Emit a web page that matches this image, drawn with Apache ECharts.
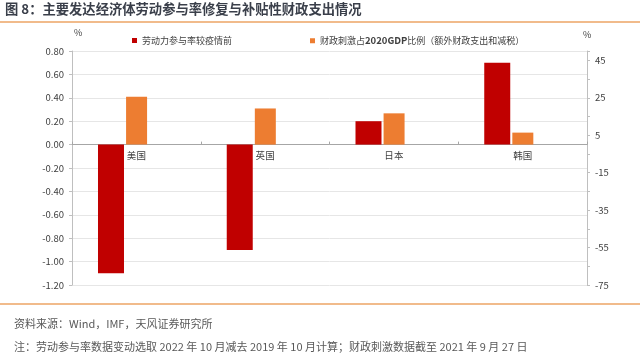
<!DOCTYPE html>
<html><head><meta charset="utf-8">
<script src="https://cdn.jsdelivr.net/npm/echarts@6/dist/echarts.min.js"></script>
<style>html,body{margin:0;padding:0;background:#fff}#c{width:640px;height:359px}</style>
</head><body><div id="c"></div>
<script>
const categories = ['美国', '英国', '日本', '韩国'];
const laborChange = [-1.10, -0.90, 0.20, 0.70];
const fiscalStimulus = [25.5, 19.3, 16.7, 6.4];
const leftTicks = {min: -1.2, max: 0.8, interval: 0.2};
const rightTicks = {min: -75, max: 50, interval: 20};
const seriesNames = ['劳动力参与率较疫情前', '财政刺激占2020GDP比例（额外财政支出和减税）'];

const FONT = '"Noto Sans CJK SC", "Noto Sans", sans-serif';
const GRID = {left: 72, right: 53, top: 51, bottom: 74};
const plotH = 359 - GRID.top - GRID.bottom;
const zeroOffset = -plotH * (0 - leftTicks.min) / (leftTicks.max - leftTicks.min);
const chart = echarts.init(document.getElementById('c'));
chart.setOption({
  animation: false,
  textStyle: {fontFamily: FONT},
  grid: GRID,
  graphic: [
    {type: 'text', left: 5, top: 2, style: {text: '图 8：主要发达经济体劳动参与率修复与补贴性财政支出情况', font: 'bold 13.3px ' + FONT, fill: '#3a3f4a'}},
    {type: 'line', shape: {x1: 0, y1: 22, x2: 640, y2: 22}, style: {stroke: '#EDA565', lineWidth: 1.5}},
    {type: 'line', shape: {x1: 0, y1: 304, x2: 640, y2: 304}, style: {stroke: '#EDA565', lineWidth: 1.5}},
    {type: 'text', left: 14, top: 318, style: {text: '资料来源：Wind，IMF，天风证券研究所', font: '11px ' + FONT, fill: '#595959'}},
    {type: 'text', left: 14, top: 341, style: {text: '注：劳动参与率数据变动选取 2022 年 10 月减去 2019 年 10 月计算；财政刺激数据截至 2021 年 9 月 27 日', font: '11px ' + FONT, fill: '#595959'}}
  ],
  legend: [
    {data: [seriesNames[0]], left: 127, top: 31, itemWidth: 5, itemHeight: 5, icon: 'rect', itemGap: 4,
     textStyle: {fontSize: 9, color: '#404040'}},
    {data: [seriesNames[1]], left: 305, top: 31, itemWidth: 5, itemHeight: 5, icon: 'rect', itemGap: 4,
     formatter: function () { return '{a|财政刺激占}{b|2020GDP}{a|比例（额外财政支出和减税）}'; },
     textStyle: {fontSize: 9, color: '#404040',
       rich: {a: {fontSize: 9, color: '#404040'}, b: {fontSize: 9.5, fontWeight: 'bold', color: '#404040'}}}}
  ],
  xAxis: {
    type: 'category', data: categories, position: 'bottom', offset: zeroOffset,
    axisLine: {onZero: false, lineStyle: {color: '#a6a6a6'}},
    axisTick: {show: true, length: 3, inside: true, lineStyle: {color: '#a6a6a6'}},
    axisLabel: {color: '#404040', fontSize: 9.5, margin: 6}
  },
  yAxis: [
    {type: 'value', min: leftTicks.min, max: leftTicks.max, interval: leftTicks.interval,
     name: '%', nameLocation: 'end', nameGap: 14, nameTextStyle: {color: '#404040', fontSize: 9, align: 'left', padding: [0, 0, 0, 2]},
     axisLine: {show: true, lineStyle: {color: '#bfbfbf'}},
     axisTick: {show: true, length: 3, lineStyle: {color: '#bfbfbf'}},
     axisLabel: {color: '#404040', fontSize: 9.5, margin: 8, formatter: v => v.toFixed(2)},
     splitLine: {lineStyle: {color: '#e6e6e6'}}},
    {type: 'value', min: rightTicks.min, max: rightTicks.max, interval: rightTicks.interval,
     name: '%', nameLocation: 'end', nameGap: 12, nameTextStyle: {color: '#404040', fontSize: 9, align: 'left', padding: [0, 0, 0, -4]},
     axisLine: {show: true, lineStyle: {color: '#bfbfbf'}},
     axisTick: {show: true, length: 3, lineStyle: {color: '#bfbfbf'}},
     minorTick: {show: true, splitNumber: 2, length: 3, lineStyle: {color: '#bfbfbf'}},
     axisLabel: {color: '#404040', fontSize: 9.5, margin: 8, showMaxLabel: false},
     splitLine: {show: false}}
  ],
  series: [
    {name: seriesNames[0], type: 'bar', yAxisIndex: 0, data: laborChange, barWidth: 26, barGap: '8%',
     itemStyle: {color: '#C00000'}},
    {name: seriesNames[1], type: 'bar', yAxisIndex: 1, data: fiscalStimulus, barWidth: 21, barGap: '8%',
     itemStyle: {color: '#ED7D31'}},
    {name: 'spacer', type: 'bar', yAxisIndex: 1, data: categories.map(() => null), barWidth: 26, barGap: '8%',
     itemStyle: {color: 'transparent'}, silent: true}
  ]
});
</script></body></html>
